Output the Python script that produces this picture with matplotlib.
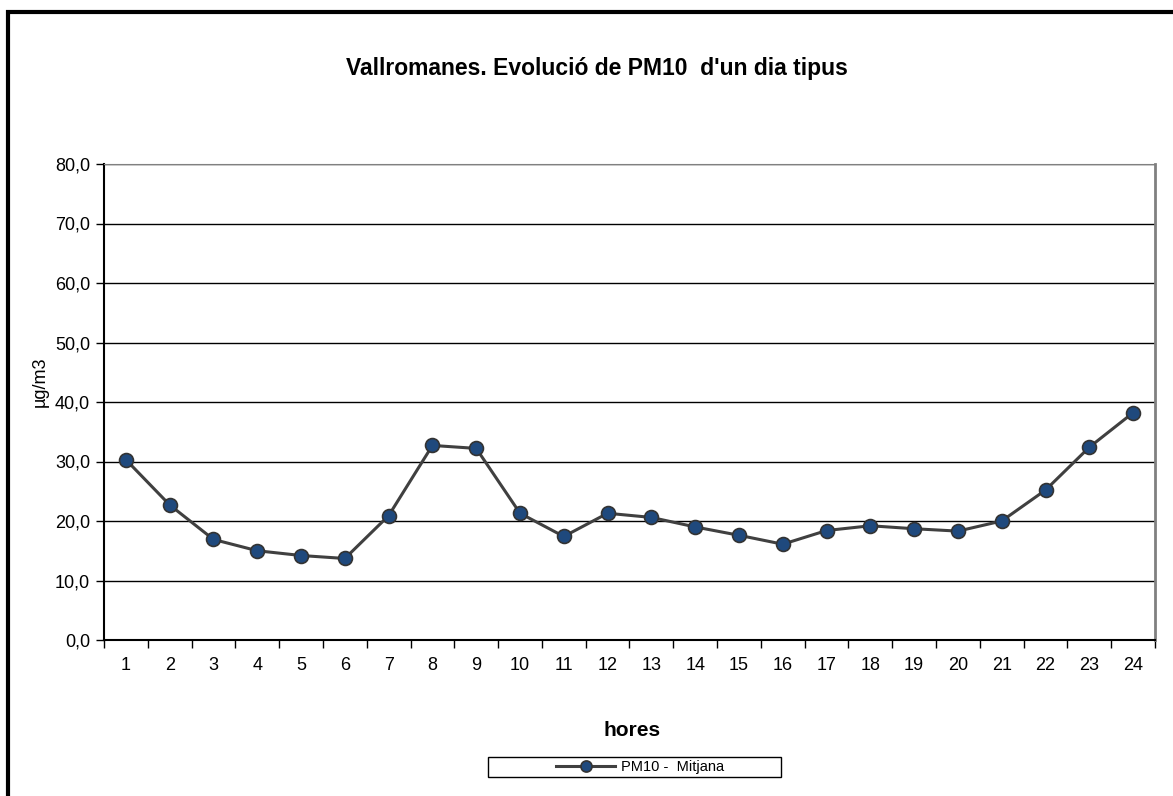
import numpy as np
import matplotlib
matplotlib.use("Agg")
import matplotlib.pyplot as plt
from matplotlib.patches import Rectangle
from matplotlib.ticker import FixedLocator, FuncFormatter

plt.rcParams['font.family'] = ['Liberation Sans', 'DejaVu Sans']

# dades: mitjana horaria PM10
hores = list(range(1, 25))
pm10 = [30.3, 22.7, 16.9, 15.0, 14.2, 13.7, 20.9, 32.7, 32.2, 21.3, 17.4, 21.3,
        20.6, 19.0, 17.6, 16.1, 18.4, 19.2, 18.7, 18.3, 20.0, 25.2, 32.4, 38.2]
y_ticks = [0, 10, 20, 30, 40, 50, 60, 70, 80]

W, H = 1173, 796
fig = plt.figure(figsize=(W / 100, H / 100), dpi=100)
ax = fig.add_axes([104 / W, 1 - 640 / H, (1155 - 104) / W, (640 - 164) / H])

ax.plot(hores, pm10, color='#404040', lw=2.2, marker='o', markersize=10,
        markerfacecolor='#1F497D', markeredgecolor='#333333', markeredgewidth=1.2,
        label='PM10 -  Mitjana', zorder=3)

ax.set_xlim(0.5, 24.5)
ax.set_ylim(0, 80)
ax.set_yticks(y_ticks)
ax.yaxis.set_major_formatter(FuncFormatter(lambda v, p: f"{v:.1f}".replace('.', ',')))
ax.set_xticks(hores)
ax.xaxis.set_minor_locator(FixedLocator(np.arange(0.5, 25, 1)))
ax.tick_params(axis='x', which='major', length=0, pad=12, labelsize=13)
ax.tick_params(axis='x', which='minor', length=6, width=1, direction='out')
ax.tick_params(axis='y', length=6, width=1, direction='out', labelsize=13, pad=4)

ax.grid(axis='y', color='black', lw=1)
ax.set_axisbelow(True)
ax.spines['top'].set_color('#808080')
ax.spines['right'].set_color('#808080')
ax.spines['right'].set_linewidth(2)
ax.spines['left'].set_linewidth(1.5)
ax.spines['bottom'].set_linewidth(1.5)

fig.text(597 / W, 1 - 68 / H, "Vallromanes. Evolució de PM10  d'un dia tipus",
         ha='center', va='center', fontsize=16.5, fontweight='bold')
fig.text(632 / W, 1 - 730 / H, "hores", ha='center', va='center',
         fontsize=15, fontweight='bold')
fig.text(40 / W, 1 - 382 / H, "µg/m3", ha='center', va='center',
         rotation=90, fontsize=13)

leg = fig.legend(loc='center', bbox_to_anchor=(640 / W, 1 - 767 / H),
                 fontsize=10.5, frameon=False, handlelength=4, markerscale=0.8,
                 borderpad=0.1, borderaxespad=0, handletextpad=0.4)

# caixa de la llegenda
fig.patches.append(Rectangle((488 / W, 1 - 777 / H), (781 - 488) / W, 20 / H,
                             transform=fig.transFigure, fill=False,
                             edgecolor='black', lw=1))

# marc exterior del grafic
fig.patches.append(Rectangle((8 / W, -0.1), 1.2, (1 - 12 / H) + 0.1,
                             transform=fig.transFigure, fill=False,
                             edgecolor='black', lw=3, zorder=10))

fig.savefig("out.png", dpi=100)
